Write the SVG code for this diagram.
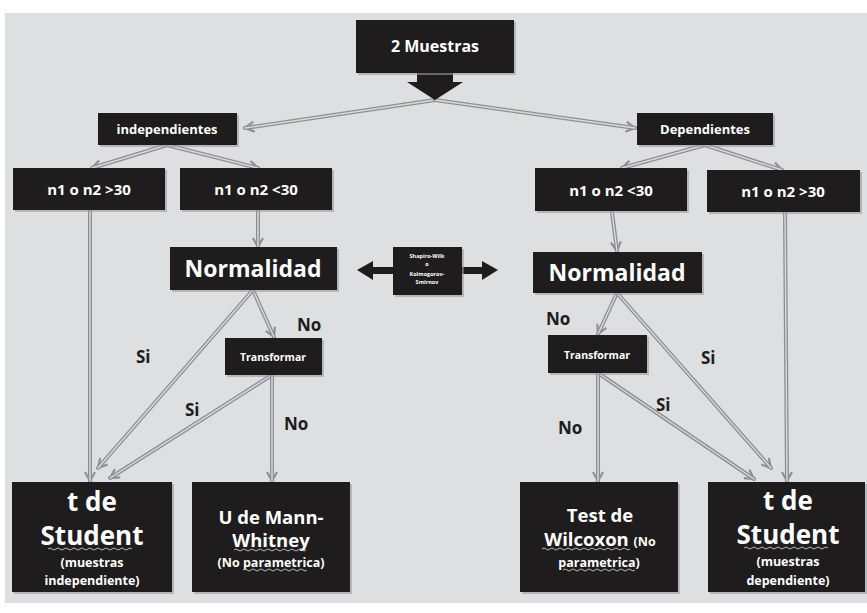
<svg xmlns="http://www.w3.org/2000/svg" width="867" height="613" viewBox="0 0 867 613">
<defs>
<style>
.box{fill:#1e1c1d;}
.sh{fill:#9a9b9e;opacity:0.6;}
.t{font-family:"Open Sans","Liberation Sans",sans-serif;font-weight:bold;fill:#ffffff;text-anchor:middle;}
.lbl{font-family:"Open Sans","Liberation Sans",sans-serif;font-weight:bold;fill:#1e1c1d;font-size:17px;}
.c1{stroke:#8e8f92;stroke-width:4;fill:none;stroke-linecap:round;}
.c2{stroke:#d9dadd;stroke-width:1.4;fill:none;stroke-linecap:round;}
.sq{stroke:#b9b9b9;stroke-width:1;fill:none;}
</style>
<marker id="ah" viewBox="0 0 12 12" refX="10" refY="6" markerWidth="12" markerHeight="12" markerUnits="userSpaceOnUse" orient="auto">
<path d="M1,1 L10,6 L1,11" fill="none" stroke="#8e8f92" stroke-width="2.2"/>
</marker>
</defs>
<rect x="0" y="0" width="867" height="613" fill="#ffffff"/>
<rect x="5" y="13" width="862" height="590" fill="#dedfe1"/>

<g id="connectors">
<path class="c1" d="M435,100 L245,128" marker-end="url(#ah)"/>
<path class="c2" d="M435,100 L245,128"/>
<path class="c1" d="M435,100 L635,128" marker-end="url(#ah)"/>
<path class="c2" d="M435,100 L635,128"/>
<path class="c1" d="M167,145 L92,168" marker-end="url(#ah)"/>
<path class="c2" d="M167,145 L92,168"/>
<path class="c1" d="M167,145 L258,168" marker-end="url(#ah)"/>
<path class="c2" d="M167,145 L258,168"/>
<path class="c1" d="M705,145 L622,168" marker-end="url(#ah)"/>
<path class="c2" d="M705,145 L622,168"/>
<path class="c1" d="M705,145 L782,170" marker-end="url(#ah)"/>
<path class="c2" d="M705,145 L782,170"/>
<path class="c1" d="M90,210 L90,481" marker-end="url(#ah)"/>
<path class="c2" d="M90,210 L90,481"/>
<path class="c1" d="M258,210 L258,247" marker-end="url(#ah)"/>
<path class="c2" d="M258,210 L258,247"/>
<path class="c1" d="M253,290 L274,337" marker-end="url(#ah)"/>
<path class="c2" d="M253,290 L274,337"/>
<path class="c1" d="M253,290 L98,468" marker-end="url(#ah)"/>
<path class="c2" d="M253,290 L98,468"/>
<path class="c1" d="M272,375 L110,478" marker-end="url(#ah)"/>
<path class="c2" d="M272,375 L110,478"/>
<path class="c1" d="M272,375 L272,481" marker-end="url(#ah)"/>
<path class="c2" d="M272,375 L272,481"/>
<path class="c1" d="M612,212 L617,251" marker-end="url(#ah)"/>
<path class="c2" d="M612,212 L617,251"/>
<path class="c1" d="M617,293 L598,334" marker-end="url(#ah)"/>
<path class="c2" d="M617,293 L598,334"/>
<path class="c1" d="M617,293 L771,468" marker-end="url(#ah)"/>
<path class="c2" d="M617,293 L771,468"/>
<path class="c1" d="M598,373 L754,479" marker-end="url(#ah)"/>
<path class="c2" d="M598,373 L754,479"/>
<path class="c1" d="M598,373 L598,481" marker-end="url(#ah)"/>
<path class="c2" d="M598,373 L598,481"/>
<path class="c1" d="M785,212 L787,481" marker-end="url(#ah)"/>
<path class="c2" d="M785,212 L787,481"/>
<path d="M417,72 L453,72 L453,82 L463,82 L435,100 L407,82 L417,82 Z" fill="#1e1c1d"/>
<path d="M357,270 L373,261 L373,267 L393,267 L393,274 L373,274 L373,280 Z" fill="#1e1c1d"/>
<path d="M498,270 L482,261 L482,267 L462,267 L462,274 L482,274 L482,280 Z" fill="#1e1c1d"/>
</g>

<g id="node-muestras">
<rect class="sh" x="358" y="22" width="158" height="53"/>
<rect class="box" x="356" y="20" width="158" height="53"/>
<text class="t" x="435" y="52" font-size="16">2 Muestras</text>
</g>
<g id="node-independientes">
<rect class="sh" x="100" y="115" width="139" height="32"/>
<rect class="box" x="98" y="113" width="139" height="32"/>
<text class="t" x="167" y="134" font-size="13">independientes</text>
</g>
<g id="node-dependientes">
<rect class="sh" x="639" y="115" width="136" height="32"/>
<rect class="box" x="637" y="113" width="136" height="32"/>
<text class="t" x="705" y="134" font-size="13">Dependientes</text>
</g>
<g id="node-ind-gt30">
<rect class="sh" x="15" y="170" width="152" height="42"/>
<rect class="box" x="13" y="168" width="152" height="42"/>
<text class="t" x="89" y="195" font-size="15">n1 o n2 &gt;30</text>
</g>
<g id="node-ind-lt30">
<rect class="sh" x="182" y="170" width="152" height="42"/>
<rect class="box" x="180" y="168" width="152" height="42"/>
<text class="t" x="256" y="195" font-size="15">n1 o n2 &lt;30</text>
</g>
<g id="node-dep-lt30">
<rect class="sh" x="537" y="170" width="152" height="43"/>
<rect class="box" x="535" y="168" width="152" height="43"/>
<text class="t" x="611" y="196" font-size="15">n1 o n2 &lt;30</text>
</g>
<g id="node-dep-gt30">
<rect class="sh" x="709" y="172" width="153" height="42"/>
<rect class="box" x="707" y="170" width="153" height="42"/>
<text class="t" x="783" y="197" font-size="15">n1 o n2 &gt;30</text>
</g>
<g id="node-normalidad-left">
<rect class="sh" x="172" y="249" width="167" height="43"/>
<rect class="box" x="170" y="247" width="167" height="43"/>
<text class="t" x="253" y="277" font-size="23">Normalidad</text>
</g>
<g id="node-normalidad-right">
<rect class="sh" x="535" y="254" width="169" height="41"/>
<rect class="box" x="533" y="252" width="169" height="41"/>
<text class="t" x="617" y="281" font-size="23">Normalidad</text>
</g>
<g id="node-test-normalidad">
<rect class="sh" x="395" y="249" width="69" height="48"/>
<rect class="box" x="393" y="247" width="69" height="48"/>
<text class="t" x="427" y="258" font-size="5.5">Shapiro-Wilk</text>
<text class="t" x="427" y="266" font-size="5.5">o</text>
<text class="t" x="427" y="276" font-size="5.5">Kolmogorov-</text>
<text class="t" x="427" y="284" font-size="5.5">Smirnov</text>
</g>
<g id="node-transformar-left">
<rect class="sh" x="227" y="340" width="97" height="37"/>
<rect class="box" x="225" y="338" width="97" height="37"/>
<text class="t" x="273" y="361" font-size="10.5">Transformar</text>
</g>
<g id="node-transformar-right">
<rect class="sh" x="550" y="337" width="99" height="38"/>
<rect class="box" x="548" y="335" width="99" height="38"/>
<text class="t" x="597" y="359" font-size="10.5">Transformar</text>
</g>
<g id="node-tstudent-ind">
<rect class="sh" x="14" y="484" width="160" height="110"/>
<rect class="box" x="12" y="482" width="160" height="110"/>
<text class="t" x="92" y="511" font-size="26">t de</text>
<text class="t" x="92" y="545" font-size="26">Student</text>
<path class="sq" d="M48,549 q2,-2 4,0 t4,0 t4,0 t4,0 t4,0 t4,0 t4,0 t4,0 t4,0 t4,0 t4,0 t4,0 t4,0 t4,0 t4,0 t4,0 t4,0 t4,0 t4,0 t4,0 t4,0"/>
<text class="t" x="92" y="567" font-size="12.5">(muestras</text>
<text class="t" x="92" y="585" font-size="12.5">independiente)</text>
</g>
<g id="node-mann-whitney">
<rect class="sh" x="194" y="484" width="158" height="110"/>
<rect class="box" x="192" y="482" width="158" height="110"/>
<text class="t" x="271" y="524" font-size="18.5">U de Mann-</text>
<text class="t" x="271" y="547" font-size="18.5">Whitney</text>
<path class="sq" d="M234,550 q2,-2 4,0 t4,0 t4,0 t4,0 t4,0 t4,0 t4,0 t4,0 t4,0 t4,0 t4,0 t4,0 t4,0 t4,0 t4,0 t4,0 t4,0 t4,0"/>
<text class="t" x="271" y="567" font-size="12.5">(No parametrica)</text>
<path class="sq" d="M243,570 q2,-2 4,0 t4,0 t4,0 t4,0 t4,0 t4,0 t4,0 t4,0 t4,0 t4,0 t4,0 t4,0 t4,0 t4,0 t4,0 t4,0"/>
</g>
<g id="node-wilcoxon">
<rect class="sh" x="522" y="484" width="158" height="110"/>
<rect class="box" x="520" y="482" width="158" height="110"/>
<text class="t" x="600" y="522" font-size="18.5">Test de</text>
<text class="t" x="600" y="546"><tspan font-size="18.5">Wilcoxon </tspan><tspan font-size="12.5">(No</tspan></text>
<path class="sq" d="M542,549 q2,-2 4,0 t4,0 t4,0 t4,0 t4,0 t4,0 t4,0 t4,0 t4,0 t4,0 t4,0 t4,0 t4,0 t4,0 t4,0 t4,0 t4,0 t4,0 t4,0 t4,0 t4,0 t4,0"/>
<text class="t" x="599" y="567" font-size="12.5">parametrica)</text>
<path class="sq" d="M563,570 q2,-2 4,0 t4,0 t4,0 t4,0 t4,0 t4,0 t4,0 t4,0 t4,0 t4,0 t4,0 t4,0 t4,0 t4,0 t4,0 t4,0 t4,0 t4,0"/>
</g>
<g id="node-tstudent-dep">
<rect class="sh" x="710" y="484" width="157" height="110"/>
<rect class="box" x="708" y="482" width="157" height="110"/>
<text class="t" x="788" y="510" font-size="26">t de</text>
<text class="t" x="788" y="544" font-size="26">Student</text>
<path class="sq" d="M744,548 q2,-2 4,0 t4,0 t4,0 t4,0 t4,0 t4,0 t4,0 t4,0 t4,0 t4,0 t4,0 t4,0 t4,0 t4,0 t4,0 t4,0 t4,0 t4,0 t4,0 t4,0 t4,0"/>
<text class="t" x="788" y="566" font-size="12.5">(muestras</text>
<text class="t" x="788" y="585" font-size="12.5">dependiente)</text>
</g>

<g id="labels">
<text class="lbl" x="297" y="331">No</text>
<text class="lbl" x="136" y="363">Si</text>
<text class="lbl" x="185" y="416">Si</text>
<text class="lbl" x="284" y="430">No</text>
<text class="lbl" x="546" y="325">No</text>
<text class="lbl" x="701" y="364">Si</text>
<text class="lbl" x="656" y="411">Si</text>
<text class="lbl" x="558" y="434">No</text>
</g>
</svg>
